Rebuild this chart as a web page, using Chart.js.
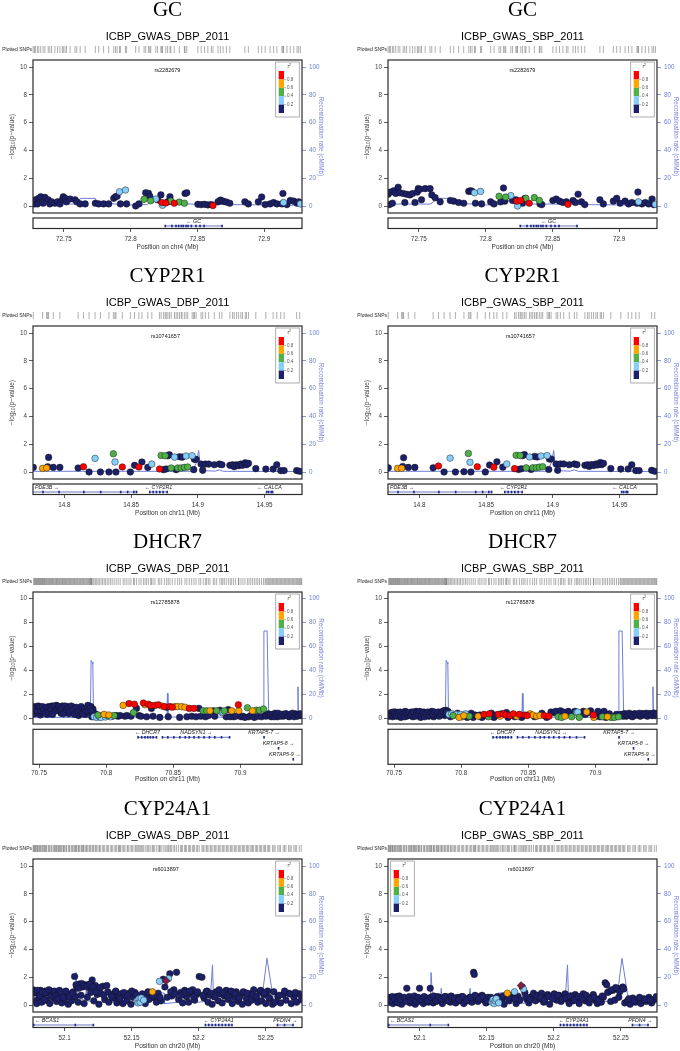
<!DOCTYPE html>
<html>
<head>
<meta charset="utf-8">
<script src="https://cdn.jsdelivr.net/npm/chart.js@4.4.1/dist/chart.umd.min.js"></script>
<style>
  body { margin: 0; background: #fff; width: 680px; height: 1051px; overflow: hidden; position: relative; }
  canvas { position: absolute; }
</style>
</head>
<body>
<canvas id="c0" width="355" height="266" style="left:-15px;top:0px"></canvas>
<canvas id="c1" width="355" height="266" style="left:340px;top:0px"></canvas>
<canvas id="c2" width="355" height="266" style="left:-15px;top:266px"></canvas>
<canvas id="c3" width="355" height="266" style="left:340px;top:266px"></canvas>
<canvas id="c4" width="355" height="266" style="left:-15px;top:532px"></canvas>
<canvas id="c5" width="355" height="266" style="left:340px;top:532px"></canvas>
<canvas id="c6" width="355" height="266" style="left:-15px;top:799px"></canvas>
<canvas id="c7" width="355" height="266" style="left:340px;top:799px"></canvas>
<script>
// ---- shared axis ticks ----
const pTicks = [0, 2, 4, 6, 8, 10];
const recTicks = [0, 20, 40, 60, 80, 100];
const legendLabels = ['0.8', '0.6', '0.4', '0.2'];

// ---- GC (chr4), positions in kb above 72.7 Mb ----
const gcRange = [72.7269, 72.9284];
const gcTicks = [72.75, 72.8, 72.85, 72.9];
const gcKb = [27.0, 28.0, 28.7, 30.2, 31.2, 32.7, 34.5, 35.8, 38.3, 39.5,
  40.8, 43.3, 45.3, 47.1, 48.9, 49.6, 50.9, 52.0, 54.7, 58.4,
  59.7, 62.2, 66.0, 73.6, 76.1, 79.8, 83.6, 87.4, 88.7, 89.9,
  91.7, 92.4, 96.2, 97.0, 103.8, 106.3, 110.1, 111.3, 113.4, 114.4,
  115.1, 118.9, 120.2, 122.7, 123.4, 123.9, 126.4, 127.7, 129.5, 130.2,
  132.7, 136.5, 140.3, 140.8, 142.1, 150.4, 152.9, 155.4, 157.9, 160.5,
  161.7, 165.5, 167.3, 169.3, 171.8, 174.3, 185.6, 188.2, 195.7, 198.2,
  200.8, 204.5, 207.1, 209.6, 213.4, 214.1, 214.6, 217.1, 219.6, 222.2,
  224.7, 225.9, 227.2];
const gcR2 = ('NNNNNNNNNN' + 'NNNNNNNNNN' + 'NNNNNNNNNN' + 'BNBNNNGNNN' + 'GBNNRBRNNG' +
  'RGGNNNNNNN' + 'RNNNNNNNNN' + 'NNNNNNBNNN' + 'NNB').split('');
const gcDbp = [.30, .15, .45, .15, .55, .67, .20, .62, .45, .15,
  .30, .20, .30, .15, .45, .67, .55, .30, .50, .45,
  .30, .15, .15, .20, .15, .15, .15, .55, .67, .70,
  1.03, .15, 1.15, .15, 0, .15, .48, .95, .92, .70,
  .38, .50, .45, .80, .25, .05, .22, .30, .67, .35,
  .20, .28, .20, .90, .95, .12, .10, .12, .08, .10,
  .03, .30, .42, .35, .28, .20, .30, .15, .30, .65,
  .10, .15, .25, .15, .15, .90, .25, .10, .40, .35,
  .20, .30, .15];
const gcSbp = [.85, .10, 1.00, .20, 1.10, .90, 1.35, .95, .90, .25,
  .85, .80, .90, .25, 1.00, 1.25, 1.20, .45, 1.25, 1.25,
  .80, .60, .30, .40, .35, .25, .20, 1.05, 1.10, 1.05,
  .95, .20, 1.05, .15, .30, .15, .70, .30, 1.30, .35,
  .65, .75, .40, .45, .35, 0, .40, .20, .55, .55,
  .20, .60, .40, .15, .10, .40, .50, .35, .25, .30,
  .12, .40, .25, .85, .30, .10, .45, .15, .35, .55,
  .20, .35, .15, .25, .20, 1.00, .30, .15, .25, .15,
  .50, .10, .12];
const gcRecKb = [26.0, 58.4, 61.0, 62.4, 73.6, 74.8, 81.1, 101.3, 112.5, 115.5, 118.5, 121.5, 151.6, 176.8, 229.0];
const gcRec = [1.4, 1.4, 2.9, 5.5, 5.5, 2.4, 1.9, 0.7, 1.0, 4.0, 3.5, 1.4, 1.4, 1.0, 0.5];
const gcGenes = [
  { name: 'GC', start: 72.8255, end: 72.869, strand: -1, row: 0,
    exons: [72.826, 72.831, 72.834, 72.836, 72.838, 72.8395, 72.8415, 72.843, 72.8455, 72.849, 72.852, 72.855, 72.8685] }
];

// ---- CYP2R1 (chr11), kb above 14.7 Mb ----
const cypRange = [14.7765, 14.978];
const cypTicks = [14.8, 14.85, 14.9, 14.95];
const cypKb = [76.7, 83.7, 86.7, 87.5, 88.2, 91.7, 96.6, 110.3, 114.3, 118.5,
  123.0, 127.0, 133.4, 136.7, 137.9, 138.6, 143.4, 149.4, 152.6, 155.8,
  158.1, 162.5, 165.5, 171.3, 172.5, 174.3, 175.5, 176.3, 177.5, 178.7,
  180.0, 182.5, 183.7, 184.9, 186.2, 187.5, 188.2, 189.9, 191.2, 192.4,
  195.7, 196.9, 197.4, 198.7, 202.4, 203.6, 205.6, 208.1, 212.3, 216.1,
  218.0, 224.0, 226.0, 227.2, 229.0, 230.5, 232.2, 233.4, 235.5, 236.4,
  237.9, 243.4, 250.9, 256.4, 259.1, 262.1, 264.6, 274.0, 276.3];
const cypR2 = ('NOONNNNNRN' + 'BNNGBNRNNR' + 'NNBRGNGNNN' + 'GBNGNGNGBG' + 'BNNNNNNNNN' +
  'NNNNNNNNNN' + 'NNNNNNNNN').split('');
const cypDbp = [.33, .26, .29, .38, 1.05, .33, .33, .29, .38, 0,
  .98, 0, 0, 1.31, .72, 0, .36, 0, .48, .36,
  .72, .33, .57, .22, 1.19, .17, 1.17, .22, 1.17, 1.24,
  .29, 1.07, .17, .29, 1.10, .29, 1.07, .33, 1.15, .36,
  1.17, .17, .91, .91, .57, .12, .57, .57, .52, .57,
  .52, .48, .52, .38, .52, .45, .57, .48, .67, .52,
  .62, .24, .21, .21, .52, .10, .10, .10, .05];
const cypSbp = [.30, .26, .27, .40, 1.03, .33, .33, .30, .43, 0,
  1.00, 0, .02, 1.33, .70, 0, .38, 0, .50, .35,
  .73, .35, .58, .24, 1.20, .18, 1.18, .23, 1.18, 1.25,
  .30, 1.08, .18, .30, 1.12, .31, 1.08, .35, 1.15, .38,
  1.18, .18, .93, .93, .58, .12, .58, .58, .52, .58,
  .53, .48, .52, .40, .53, .46, .58, .50, .68, .53,
  .62, .25, .21, .22, .52, .10, .10, .12, .05];
const cypRecKb = [76.0, 196.0, 197.4, 199.0, 200.6, 202.0, 203.5, 213.0, 216.0, 219.0, 279.0];
const cypRec = [0.5, 0.5, 3.5, 7.0, 15.5, 3.0, 1.0, 0.6, 1.5, 0.5, 0.3];
const cypGenes = [
  { name: 'PDE3B', start: 14.70, end: 14.855, strand: 1, row: 0,
    exons: [14.784, 14.796, 14.8146, 14.8272, 14.8422, 14.8474, 14.852, 14.854] },
  { name: 'CYP2R1', start: 14.8638, end: 14.8772, strand: -1, row: 0,
    exons: [14.864, 14.8665, 14.869, 14.8715, 14.874, 14.877] },
  { name: 'CALCA', start: 14.9511, end: 14.9563, strand: -1, row: 0,
    exons: [14.9515, 14.953, 14.955, 14.956] }
];

// ---- DHCR7 (chr11), kb above 70.7 Mb ----
const dhcRange = [70.7455, 70.946];
const dhcTicks = [70.75, 70.8, 70.85, 70.9];
const dhcKb = [46.0, 47.0, 48.0, 49.0, 50.0, 51.0, 52.0, 53.0, 54.0, 55.0,
  56.2, 57.3, 58.4, 59.5, 60.6, 61.8, 63.0, 64.0, 65.2, 66.4,
  67.5, 68.7, 69.8, 71.0, 72.2, 73.4, 74.6, 75.8, 77.0, 78.2,
  79.5, 80.8, 82.0, 83.2, 84.5, 85.8, 87.0, 87.8, 88.6, 89.3,
  90.2, 91.0, 92.0, 93.0, 94.0, 95.0, 96.2, 97.3, 98.5, 99.5,
  100.8, 102.0, 103.3, 104.5, 106.0, 107.5, 109.0, 110.5,
  112.7, 114.0, 115.5, 117.1, 118.5, 120.4, 121.1, 122.6, 124.5, 126.0,
  127.8, 129.0, 130.2, 131.5, 133.2, 133.8, 135.0, 136.4, 138.9, 140.0,
  141.4, 143.4, 145.1, 146.3, 147.6, 149.3, 151.3, 153.3, 154.8, 156.3,
  158.8, 160.2, 162.0, 163.8, 165.5, 167.0, 169.2, 170.5, 172.4, 174.0,
  174.9, 176.2, 177.4, 179.9, 181.0, 182.4, 184.8, 186.1, 187.0, 188.1,
  189.5, 191.1, 192.5, 193.6, 195.0, 196.5, 198.6, 198.9, 200.5,
  202.0, 203.5, 205.3, 206.5, 207.8, 209.1, 210.5, 211.8, 213.0, 214.3, 215.8, 217.3, 218.5,
  220.0, 221.5, 223.0, 224.5, 226.0, 227.5, 229.0, 230.5, 232.0, 233.5,
  235.0, 236.5, 238.0, 239.5, 241.0, 242.5, 244.0, 245.3,
  46.5, 47.5, 48.5, 49.5, 50.5, 51.5, 52.5, 53.5, 54.5, 55.6,
  56.8, 57.9, 59.0, 60.1, 61.2, 62.4, 63.5, 64.6, 65.8, 67.0,
  68.1, 69.2, 70.4, 71.6, 72.8, 74.0, 75.2, 76.4, 77.6, 78.8,
  80.2, 81.4, 82.6, 83.8, 85.2, 86.4, 88.0, 89.0,
  219.2, 220.8, 222.2, 223.8, 225.2, 226.8, 228.2, 229.8, 231.2, 232.8,
  234.2, 235.8, 237.2, 238.8, 240.2, 241.8, 243.2, 244.6, 245.8];
const dhcR2 = ('NNNNNNNNNN' + 'NNNNNNNNNN' + 'NNNNNNNNNN' + 'NNNNNNNNNN' +
  'NBNBGBBNOB' + 'GOBNGNNN' +
  'ONNRNGRNNN' + 'RONRRNNRRN' + 'ORNNRROONO' + 'ONRNRNNNGN' + 'GNONNGNBBG' + 'NNNONNRON' +
  'NNGNNONGNGNGN' +
  'NNNNNNNNNN' + 'NNNNNNNN' +
  'NNNNNNNNNN' + 'NNNNNNNNNN' + 'NNNNNNNNNN' + 'NNNNNNNN' +
  'NNNNNNNNNN' + 'NNNNNNNNN').split('');
const dhcDbp = [.70, .95, .40, .80, .55, .25, .75, .45, .85, .60,
  .30, .95, .70, 1.00, .50, .85, 1.05, .65, .90, .40,
  1.00, .75, .55, .95, .35, .80, .60, .90, .45, .70,
  .20, .85, .50, .65, .30, .85, 1.00, .45, .95, .10,
  .75, .10, .35, .05, .25, .10, .05, .20, .30, .08,
  .20, .25, .10, .15, .20, .20, .15, .20,
  1.05, .15, .20, 1.20, .15, .45, 1.15, .80, .20, .15,
  1.25, 1.10, .10, 1.15, 1.05, .80, .15, 1.05, 1.10, .05,
  1.00, .95, .90, .10, .95, .90, .95, .95, .05, .95,
  .90, .10, .80, .15, .80, .10, .80, .15, .60, .10,
  .60, .20, .60, .60, .15, .60, .65, .45, .50, .60,
  .10, .70, .10, .60, .10, .15, 1.10, .60, .10,
  .15, .05, .85, .10, .20, .60, .05, .65, .15, .65, .10, .75, .20,
  .25, .30, .10, .20, .40, .10, .30, .20, .15, .35,
  .25, .10, .30, .20, .35, .15, .30, .20,
  .35, .80, .60, 1.00, .90, .60, .95, .70, .40, .90,
  .55, .85, .75, .30, 1.00, .60, .80, .95, .70, .85,
  .35, 1.00, .70, .85, .55, 1.00, .70, .30, .90, .50,
  .65, .95, .35, .75, .60, 1.05, .80, .60,
  .15, .35, .20, .30, .10, .25, .40, .15, .30, .20,
  .35, .15, .25, .40, .10, .30, .20, .35, .25];
const dhcSbp = [.35, .20, .45, .10, .30, .50, .15, .40, .25, .05,
  .45, .30, .55, .15, .40, .25, .50, .10, .35, .55,
  .20, .45, .05, .30, .50, .25, .45, .15, .35, .55,
  .10, .40, .20, .50, .30, .45, .60, .20, .65, .35,
  .55, .30, .10, .35, .20, .25, .30, .40, .05, .30,
  .10, .20, .35, .05, .15, .40, .05, .25,
  .15, .25, .05, .30, .20, .10, .35, .40, .05, .25,
  .30, .15, .35, .35, .25, .45, .05, .20, .35, .10,
  .15, .30, .05, .20, .25, .20, .35, .25, .10, .15,
  .20, .40, .20, .05, .15, .50, .45, .55, .10, .60,
  .05, .50, .15, .55, .40, .10, .55, .45, .50, .05,
  .40, .55, .30, .50, .45, .60, .25, .05, .15,
  .55, .10, .10, .55, .05, .10, .35, .05, .10, .05, .30, .10, .25,
  .20, .35, .15, .30, .25, .10, .35, .25, .30, .15,
  .35, .25, .40, .30, .35, .20, .40, .30,
  .15, .40, .25, .50, .35, .20, .45, .30, .50, .20,
  .35, .10, .40, .30, .45, .20, .35, .50, .15, .40,
  .30, .55, .25, .40, .10, .35, .50, .20, .40, .30,
  .50, .25, .45, .15, .35, .55, .40, .45,
  .30, .15, .35, .20, .40, .30, .15, .35, .25, .40,
  .20, .35, .30, .15, .35, .25, .40, .20, .35];
const dhcRecKb = [45.0, 88.3, 88.8, 89.5, 90.1, 90.6, 100.0, 120.0, 145.3, 145.7, 146.1, 190.0, 217.0, 217.6, 220.0, 221.2, 242.6, 243.0, 243.4, 247.0];
const dhcRec = [0.5, 0.5, 48.0, 46.5, 45.0, 0.6, 1.0, 0.8, 0.8, 20.5, 0.8, 0.6, 0.6, 72.5, 72.5, 0.6, 0.6, 26.0, 0.6, 0.6];
const dhcGenes = [
  { name: 'DHCR7', start: 70.8236, end: 70.838, strand: -1, row: 0,
    exons: [70.8238, 70.8265, 70.829, 70.831, 70.833, 70.835, 70.8375] },
  { name: 'NADSYN1', start: 70.8418, end: 70.8925, strand: 1, row: 0,
    exons: [70.842, 70.846, 70.8505, 70.855, 70.859, 70.862, 70.8655, 70.869, 70.873, 70.877, 70.881, 70.886, 70.892] },
  { name: 'KRTAP5-7', start: 70.9175, end: 70.918, strand: 1, row: 0, exons: [70.9177] },
  { name: 'KRTAP5-8', start: 70.9283, end: 70.9288, strand: 1, row: 1, exons: [70.9285] },
  { name: 'KRTAP5-9', start: 70.9393, end: 70.9398, strand: 1, row: 2, exons: [70.9395] }
];

// ---- CYP24A1 (chr20), kb above 52.0 Mb ----
const c24Range = [52.0765, 52.277];
const c24Ticks = [52.1, 52.15, 52.2, 52.25];
const c24Kb = [77.0, 77.8, 78.5, 79.3, 80.2, 81.0, 82.1, 83.0, 84.2, 85.5,
  86.6, 87.8, 89.0, 90.5, 91.7, 93.0, 94.1, 95.5, 96.8, 98.0,
  99.3, 100.0, 101.5, 102.8, 104.0, 105.3, 106.5, 107.5, 108.0, 109.0,
  110.2, 111.0, 112.3, 113.5, 114.6, 115.8, 117.0, 118.2, 119.5, 120.6,
  121.8, 123.0, 124.3, 125.6, 127.0, 128.5, 130.0, 131.5, 133.0, 134.6,
  136.0, 137.5, 139.0, 140.3, 140.8, 142.0, 143.5, 145.0, 146.6, 148.0,
  149.5, 151.0, 152.5, 154.0, 154.8, 155.6, 156.4, 157.2, 158.0, 159.0,
  160.2, 161.5, 163.0, 164.3, 165.5, 167.0, 168.5, 169.8, 170.8, 172.0,
  173.5, 174.8, 175.7, 176.6, 177.5, 178.5, 180.0, 181.5, 183.5, 185.0,
  186.5, 188.0, 189.5, 191.0, 192.5, 194.0, 195.5, 197.0, 198.5, 200.4,
  202.4, 204.0, 205.5, 207.0, 208.5, 210.0, 211.5, 213.0, 214.5, 216.0,
  217.5, 219.0, 220.5, 222.0, 223.5, 225.0, 226.5, 228.0, 229.5, 231.0,
  232.5, 234.0, 235.5, 237.0, 238.4, 239.5, 241.0, 242.5, 244.0, 245.5,
  247.0, 248.5, 250.0, 251.5, 253.0, 255.0, 257.0, 259.0, 261.0, 263.0,
  265.0, 267.0, 269.0, 271.0, 273.0, 275.0, 276.5,
  76.6, 78.0, 79.8, 81.5, 83.5, 85.0, 86.0, 88.4, 90.0, 92.4,
  93.6, 95.0, 96.2, 97.4, 99.0, 101.0, 103.5, 105.8, 108.6, 110.6,
  112.8, 114.1, 116.4, 118.8, 121.2, 123.6, 126.2, 129.2, 132.2, 135.2,
  138.2, 141.4, 144.2, 147.2, 150.2, 153.2, 162.2, 166.2, 171.2, 179.2,
  182.2, 187.2, 190.2, 193.2, 196.2, 199.2, 203.2, 206.2, 209.2, 212.2,
  215.2, 218.2, 221.2, 224.2, 227.2, 230.2, 233.2, 236.2, 240.2, 243.2,
  246.2, 249.2, 252.2, 256.0, 260.0, 264.0, 268.0, 272.0];
const c24R2 = ('NNNNNNNNNN' + 'NNNNNNNNNN' + 'NNNNNNNNNN' + 'NNNNNNNNNN' + 'NNNNNNNNNN' + 'NNNNNNNNNN' +
  'NNNBBBBBNB' + 'NNNNONNNBN' + 'NNPNBNNNNN' +
  'NNNNNNNNNN' + 'NNNNNNNNNN' + 'NNNNNNNNNN' + 'NNNNNNNNNN' + 'NNNNNNNNNN' + 'NNNNNNN' +
  'NNNNNNNNNN' + 'NNNNNNNNNN' + 'NNNNNNNNNN' + 'NNNNNNNNNN' + 'NNNNNNNNNN' + 'NNNNNNNNNN' + 'NNNNNNNN').split('');
const c24Dbp = [.85, .30, 1.00, .10, .90, .55, 1.05, .20, .75, 1.00,
  .35, .85, .10, .95, .50, .80, .25, .95, .60, .15,
  .85, .40, .90, .05, .75, .30, .95, 2.05, .60, 1.35,
  .20, 1.50, .70, 1.30, .10, 1.45, .55, 1.25, .90, 1.80,
  .30, 1.40, .75, .05, .85, 1.35, .40, 1.40, .20, .75,
  .50, .90, .15, .60, .35, .80, .10, .65, .30, .85,
  .05, .55, .90, .30, .15, .45, .20, .50, .80, .35,
  .10, .75, .40, .90, .95, .50, .20, .85, 1.70, .30,
  1.85, 1.30, 1.75, .55, 1.90, 2.25, .65, 1.10, 2.35, .40,
  .90, .15, 1.05, .60, .20, .85, 1.10, .35, .75, 2.05,
  2.00, .50, .95, .20, .70, .05, .60, .95, .30, .80,
  .15, .65, 1.05, .40, .85, .10, .55, .95, .25, .70,
  .05, .90, .45, .15, .80, .35, 1.10, .60, .20, .95,
  .30, .75, .10, 1.00, .45, .05, .20, .60, .15, .75,
  .35, .85, .10, .55, .20, .80, .40,
  1.10, .95, 1.05, .70, .95, .40, .90, 1.10, .65, 1.00,
  .70, .45, 1.05, .90, .55, 1.00, .60, .85, 1.45, 1.20,
  1.55, 1.40, 1.35, 1.50, 1.30, .95, 1.25, .70, .95, .60,
  1.00, .45, .90, .70, 1.00, .75, .95, .65, .55, .95,
  .80, .70, .90, 1.00, .60, .95, .70, 1.00, .85, .60,
  1.10, .90, .70, 1.00, .80, .50, .95, .85, .75, .60,
  1.05, .90, .55, .95, .70, 1.00, .80, .90];
const c24Sbp = [.45, .20, .55, .35, .10, .50, .30, .60, .15, .45,
  .05, .50, .30, 1.20, .40, .15, .55, .35, .05, .50,
  .25, 1.20, .45, .10, .55, .35, .20, .50, 1.20, .40,
  .15, .55, .25, .60, .30, .50, .10, .45, .60, .35,
  .55, .20, .50, .40, .15, .55, .30, .60, .10, .45,
  .30, .55, .20, 2.35, 2.20, .45, .25, .60, .70, .35,
  .15, .55, .30, .20, .40, .10, .30, .45, .60, .15,
  .55, .35, .05, .65, .85, .30, .70, .50, .95, .10,
  .60, .35, 1.40, 1.30, 1.15, .90, .40, .15, .60, .85,
  .30, .70, .45, .85, .20, .55, .75, .05, .60, .80,
  .35, .70, .25, .55, .80, .40, .10, .65, .30, .75,
  .45, .10, .60, .80, .30, .50, .15, .55, .75, .35,
  .10, .45, .20, .55, 1.60, 1.45, .95, .25, 1.05, .35,
  1.15, .55, 1.20, 1.30, .15, .30, .05, .50, .20, .40,
  .10, .45, .25, .55, .15, .40, .60,
  .55, .30, .60, .45, .20, .65, .40, .55, .25, .60,
  .35, .50, .65, .25, .55, .40, .60, .30, .55, .65,
  .35, .55, .45, .60, .30, .65, .50, .40, .60, .35,
  .55, .70, .45, .60, .30, .55, .65, .50, .45, .60,
  .40, .65, .55, .35, .60, .45, .70, .40, .55, .65,
  .35, .60, .50, .70, .45, .55, .35, .65, .90, 1.10,
  1.25, .95, 1.15, .45, .30, .55, .40, .35];
const c24RecKb = [76.0, 90.0, 100.0, 105.4, 108.2, 108.6, 109.6, 111.0, 115.5, 116.2, 116.9, 125.0, 136.5, 137.7, 138.7,
  146.4, 149.0, 153.0, 158.5, 167.4, 174.3, 174.6, 185.0, 195.0, 200.0, 208.5, 210.3, 211.0, 215.5, 225.9,
  235.0, 247.0, 250.9, 253.4, 256.0, 264.0, 278.0];
const c24Rec = [1.0, 1.2, 1.5, 3.1, 6.0, 23.4, 6.2, 5.0, 3.0, 12.0, 3.0, 2.0, 2.0, 12.0, 2.0,
  7.4, 1.9, 1.0, 8.6, 8.6, 8.6, 1.0, 2.0, 2.4, 2.0, 3.0, 28.9, 6.2, 3.0, 2.6,
  2.0, 3.8, 33.6, 18.0, 2.0, 2.0, 1.4];
const c24Genes = [
  { name: 'BCAS1', start: 51.90, end: 52.1218, strand: -1, row: 0, exons: [52.077, 52.108, 52.1215] },
  { name: 'CYP24A1', start: 52.2049, end: 52.225, strand: -1, row: 0,
    exons: [52.205, 52.2075, 52.21, 52.2125, 52.215, 52.2175, 52.22, 52.2225, 52.2248] },
  { name: 'PFDN4', start: 52.2586, end: 52.2705, strand: 1, row: 0, exons: [52.2587, 52.264, 52.2703] }
];

// ---- styles and layout ----
const FONT = "'Liberation Sans', Arial, Helvetica, sans-serif";
const W = 355, H = 266;
const r2Order = ['N', 'B', 'G', 'O', 'R', 'P'];
const r2Colors = { N: '#1c2068', B: '#87cefa', G: '#4fb048', O: '#ffa500', R: '#ff0000', P: '#7e1f46' };
const recColor = '#6d7fd6';
const layouts = {
  A: { plotTop: 60, plotBottom: 213, geneTop: 218, geneBottom: 228.5, y10: 67, y0: 206, tickPad: 3 },
  B: { plotTop: 60, plotBottom: 192, geneTop: 197.3, geneBottom: 232.3, y10: 66, y0: 186, tickPad: 1.5 }
};

const loci = {
  GC: { gene: 'GC', chr: 'chr4', base: 72.7, range: gcRange, ticks: gcTicks, kb: gcKb, r2: gcR2,
        DBP: gcDbp, SBP: gcSbp, recKb: gcRecKb, rec: gcRec, genes: gcGenes,
        lead: { name: 'rs2282679', pos: 72.8276 }, layout: 'A' },
  CYP2R1: { gene: 'CYP2R1', chr: 'chr11', base: 14.7, range: cypRange, ticks: cypTicks, kb: cypKb, r2: cypR2,
        DBP: cypDbp, SBP: cypSbp, recKb: cypRecKb, rec: cypRec, genes: cypGenes,
        lead: { name: 'rs10741657', pos: 14.8757 }, layout: 'A' },
  DHCR7: { gene: 'DHCR7', chr: 'chr11', base: 70.7, range: dhcRange, ticks: dhcTicks, kb: dhcKb, r2: dhcR2,
        DBP: dhcDbp, SBP: dhcSbp, recKb: dhcRecKb, rec: dhcRec, genes: dhcGenes,
        lead: { name: 'rs12785878', pos: 70.844 }, layout: 'B' },
  CYP24A1: { gene: 'CYP24A1', chr: 'chr20', base: 52.0, range: c24Range, ticks: c24Ticks, kb: c24Kb, r2: c24R2,
        DBP: c24Dbp, SBP: c24Sbp, recKb: c24RecKb, rec: c24Rec, genes: c24Genes,
        lead: { name: 'rs6013897', pos: 52.1755 }, layout: 'A' }
};

Object.values(loci).forEach(L => {
  const n = L.kb.length;
  if (L.r2.length !== n || L.DBP.length !== n || L.SBP.length !== n)
    throw new Error(L.gene + ' length mismatch ' + [n, L.r2.length, L.DBP.length, L.SBP.length].join(','));
  if (L.recKb.length !== L.rec.length) throw new Error(L.gene + ' rec mismatch');
});

// draws text pieces (for sub/superscripts) centred at 0,0
function drawPieces(ctx, pieces) {
  let total = 0;
  pieces.forEach(p => { ctx.font = p.size + 'px ' + FONT; p.w = ctx.measureText(p.t).width; total += p.w; });
  let cx = -total / 2;
  pieces.forEach(p => {
    ctx.font = p.size + 'px ' + FONT;
    ctx.textAlign = 'left';
    ctx.fillText(p.t, cx, p.dy);
    cx += p.w;
  });
}

const decor = {
  id: 'decor',
  afterDraw(chart, _args, o) {
    const { ctx, chartArea: a, scales: { x } } = chart;
    const lay = o.lay;
    const cx = (a.left + a.right) / 2;
    ctx.save();
    ctx.textBaseline = 'middle';

    // titles
    ctx.fillStyle = '#000';
    ctx.textAlign = 'center';
    ctx.font = '21px "Liberation Serif", "DejaVu Serif", serif';
    ctx.fillText(o.gene, cx, 10.5);
    ctx.font = '11px ' + FONT;
    ctx.fillText(o.trait, cx, 36.5);

    // plotted SNPs rug
    ctx.strokeStyle = 'rgba(30,30,30,0.45)';
    ctx.lineWidth = 0.8;
    o.rug.forEach(v => {
      const px = x.getPixelForValue(v);
      if (px < a.left || px > a.right) return;
      ctx.beginPath(); ctx.moveTo(px, 46); ctx.lineTo(px, 53); ctx.stroke();
    });
    ctx.fillStyle = '#222';
    ctx.textAlign = 'right';
    ctx.font = '5px ' + FONT;
    ctx.fillText('Plotted SNPs', a.left - 1, 49.5);

    // plot box + gene box
    ctx.strokeStyle = '#2a2a2a';
    ctx.lineWidth = 1.2;
    ctx.strokeRect(a.left, a.top, a.right - a.left, lay.plotBottom - a.top);
    ctx.strokeRect(a.left, lay.geneTop, a.right - a.left, lay.geneBottom - lay.geneTop);

    // genes
    o.genes.forEach(g => {
      const lo = Math.max(g.start, x.min), hi = Math.min(g.end, x.max);
      const x1 = x.getPixelForValue(lo), x2 = x.getPixelForValue(hi);
      const ly = lay.geneTop + 8 + 11 * g.row;
      const ty = lay.geneTop + 3.7 + 11 * g.row;
      ctx.strokeStyle = '#2d3b9c';
      ctx.lineWidth = 0.7;
      ctx.beginPath(); ctx.moveTo(x1, ly); ctx.lineTo(x2, ly); ctx.stroke();
      ctx.fillStyle = '#1e2a8a';
      g.exons.forEach(e => {
        const ex = x.getPixelForValue(e);
        ctx.fillRect(ex - 0.8, ly - 1.3, 1.6, 2.6);
      });
      const label = g.strand < 0 ? '\u2190 ' + g.name : g.name + ' \u2192';
      ctx.font = 'italic 5.3px ' + FONT;
      ctx.fillStyle = '#222';
      ctx.textAlign = 'left';
      const w = ctx.measureText(label).width;
      let tx;
      if (g.start < x.min) tx = a.left + 2;
      else tx = Math.min((x1 + x2) / 2 - w / 2, a.right - 1.5 - w);
      ctx.fillText(label, tx, ty);
    });

    // lead SNP label
    ctx.fillStyle = '#111';
    ctx.textAlign = 'center';
    ctx.font = '5.5px ' + FONT;
    ctx.fillText(o.lead.name, x.getPixelForValue(o.lead.pos), a.top + 10);

    // axis titles
    const my = (lay.y10 + lay.y0) / 2;
    ctx.save();
    ctx.translate(27, my);
    ctx.rotate(-Math.PI / 2);
    ctx.fillStyle = '#444';
    drawPieces(ctx, [{ t: '\u2212log', size: 6.5, dy: 0 }, { t: '10', size: 4.6, dy: 1.6 }, { t: '(p\u2212value)', size: 6.5, dy: 0 }]);
    ctx.restore();
    ctx.save();
    ctx.translate(336, my);
    ctx.rotate(Math.PI / 2);
    ctx.fillStyle = recColor;
    drawPieces(ctx, [{ t: 'Recombination rate (cM/Mb)', size: 6.3, dy: 0 }]);
    ctx.restore();

    // r2 legend
    const lw = 23.6, lh = 55;
    const lx = o.legendLeft ? a.left + 2.7 : a.right - 26.3;
    const ly0 = a.top + 2;
    ctx.fillStyle = '#fff';
    ctx.fillRect(lx, ly0, lw, lh);
    ctx.strokeStyle = '#9a9a9a';
    ctx.lineWidth = 0.8;
    ctx.strokeRect(lx, ly0, lw, lh);
    ['R', 'O', 'G', 'B', 'N'].forEach((c, i) => {
      ctx.fillStyle = r2Colors[c];
      ctx.fillRect(lx + 3, ly0 + 9 + i * 8.4, 5.3, 8.4);
    });
    ctx.strokeStyle = '#777';
    ctx.lineWidth = 0.5;
    ctx.fillStyle = '#555';
    ctx.font = '4.5px ' + FONT;
    ctx.textAlign = 'left';
    legendLabels.forEach((t, i) => {
      const yy = ly0 + 9 + (i + 1) * 8.4;
      ctx.beginPath(); ctx.moveTo(lx + 8.3, yy); ctx.lineTo(lx + 10.6, yy); ctx.stroke();
      ctx.fillText(t, lx + 11.3, yy);
    });
    ctx.save();
    ctx.translate(lx + 13.5, ly0 + 5);
    ctx.fillStyle = '#333';
    drawPieces(ctx, [{ t: 'r', size: 5, dy: 0 }, { t: '2', size: 3.5, dy: -1.5 }]);
    ctx.restore();

    ctx.restore();
  }
};

function tickAxis(arr) {
  return s => { s.ticks = arr.map(v => ({ value: v })); };
}

function makeChart(id, L, trait, legendLeft) {
  const lay = layouts[L.layout];
  const ppu = (lay.y0 - lay.y10) / 10;
  const yMax = 10 + (lay.y10 - lay.plotTop) / ppu;
  const yMin = -(lay.geneBottom - lay.y0) / ppu;
  const vals = L[trait];

  const pointSets = r2Order.map((c, i) => {
    const pts = [];
    L.kb.forEach((k, j) => { if (L.r2[j] === c) pts.push({ x: L.base + k / 1000, y: vals[j] }); });
    return {
      data: pts,
      backgroundColor: r2Colors[c],
      borderColor: '#111',
      borderWidth: 0.45,
      pointRadius: c === 'P' ? 4 : 3.3,
      pointStyle: c === 'P' ? 'rectRot' : 'circle',
      order: 10 - i
    };
  });
  const recSet = {
    data: L.recKb.map((k, j) => ({ x: L.base + k / 1000, y: L.rec[j] })),
    yAxisID: 'y2',
    showLine: true,
    borderColor: recColor,
    borderWidth: 1,
    pointRadius: 0,
    order: 20
  };

  new Chart(document.getElementById(id), {
    type: 'scatter',
    data: { datasets: [recSet].concat(pointSets) },
    options: {
      responsive: false,
      animation: false,
      events: [],
      layout: { padding: { top: lay.plotTop, left: 0, right: 0, bottom: 0 } },
      plugins: {
        legend: { display: false },
        tooltip: { enabled: false },
        decor: {
          lay, gene: L.gene, trait: 'ICBP_GWAS_' + trait + '_2011',
          rug: L.kb.map(k => L.base + k / 1000), genes: L.genes, lead: L.lead, legendLeft
        }
      },
      scales: {
        x: {
          type: 'linear', min: L.range[0], max: L.range[1], bounds: 'data',
          afterBuildTicks: tickAxis(L.ticks),
          afterFit: s => { s.height = H - lay.geneBottom; },
          border: { display: false },
          grid: { drawOnChartArea: false, tickLength: 3.5, color: '#333', lineWidth: 0.8 },
          ticks: { font: { family: FONT, size: 6.3 }, color: '#333', padding: lay.tickPad,
                   maxRotation: 0, autoSkip: false, callback: v => String(v) },
          title: { display: true, text: 'Position on ' + L.chr + ' (Mb)', color: '#333',
                   font: { family: FONT, size: 6.5 }, padding: { top: 0, bottom: 15.2 } }
        },
        y: {
          position: 'left', min: yMin, max: yMax, bounds: 'data',
          afterBuildTicks: tickAxis(pTicks),
          afterFit: s => { s.width = 48; },
          border: { display: false },
          grid: { drawOnChartArea: false, tickLength: 4, color: '#333', lineWidth: 0.8 },
          ticks: { font: { family: FONT, size: 6.3 }, color: '#444', padding: 2 }
        },
        y2: {
          position: 'right', min: yMin * 10, max: yMax * 10, bounds: 'data',
          afterBuildTicks: tickAxis(recTicks),
          afterFit: s => { s.width = W - 317; },
          border: { display: false },
          grid: { drawOnChartArea: false, tickLength: 4, color: recColor, lineWidth: 0.8 },
          ticks: { font: { family: FONT, size: 6.3 }, color: recColor, padding: 3 }
        }
      }
    },
    plugins: [decor]
  });
}

makeChart('c0', loci.GC, 'DBP', false);
makeChart('c1', loci.GC, 'SBP', false);
makeChart('c2', loci.CYP2R1, 'DBP', false);
makeChart('c3', loci.CYP2R1, 'SBP', false);
makeChart('c4', loci.DHCR7, 'DBP', false);
makeChart('c5', loci.DHCR7, 'SBP', false);
makeChart('c6', loci.CYP24A1, 'DBP', false);
makeChart('c7', loci.CYP24A1, 'SBP', true);
</script>
</body>
</html>
